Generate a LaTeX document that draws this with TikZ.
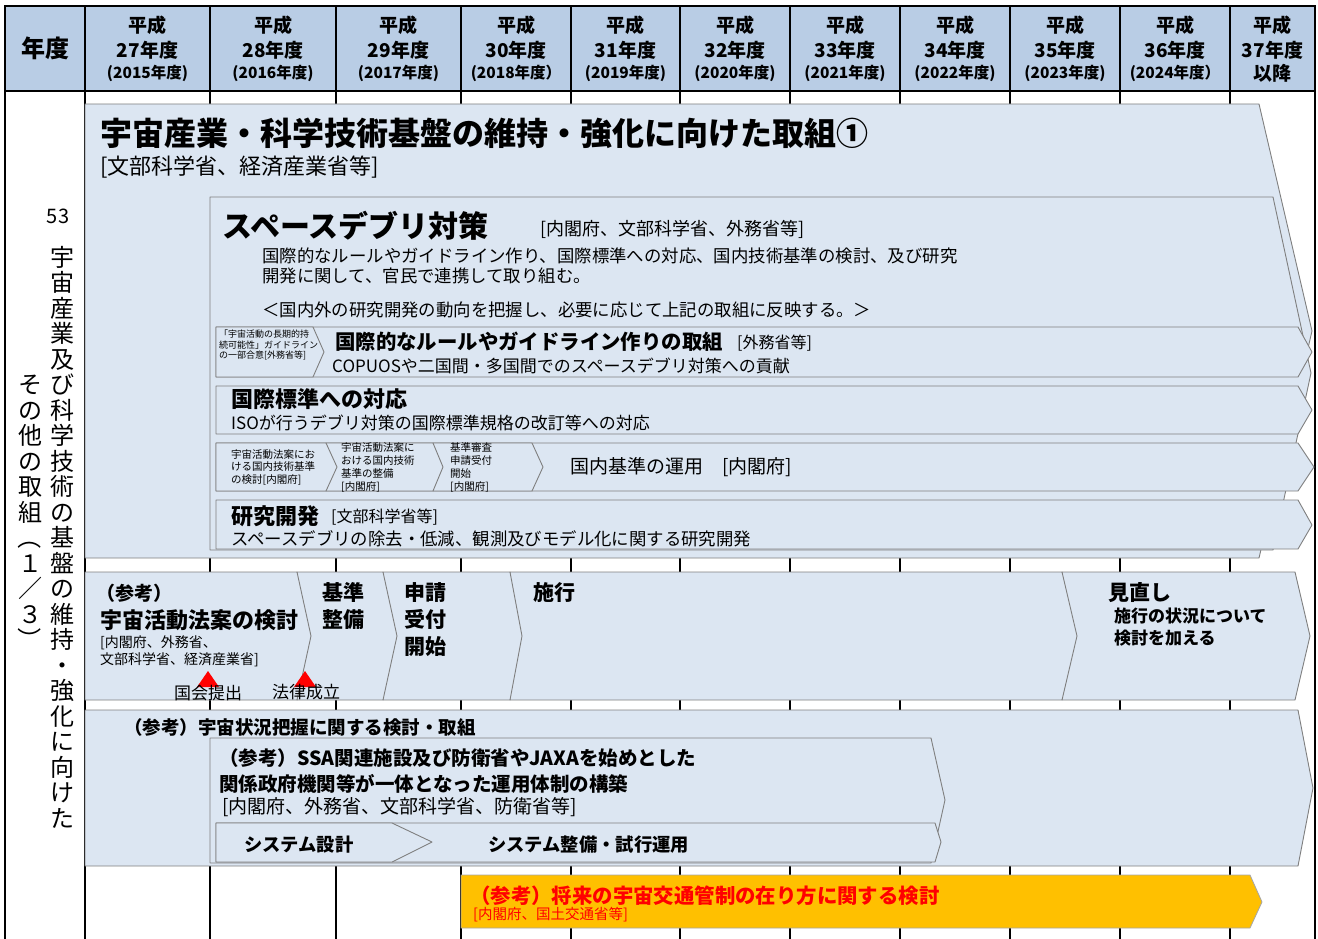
\documentclass[tikz,border=0pt]{standalone}
\usepackage{fontspec}
\setmainfont{Noto Sans CJK JP}
\usepackage{graphicx}
\definecolor{hdrfill}{HTML}{B9CDE5}
\definecolor{shpfill}{HTML}{DCE6F2}
\definecolor{shpline}{HTML}{7F7F7F}
\definecolor{ylw}{HTML}{FFC000}
\definecolor{ylwline}{HTML}{A6A6A6}
\newcommand\fsz[2]{\fontsize{#1}{#2}\selectfont}
\newcommand\yh[4]{%
  \node[hd,font=\fsz{19}{19}\bfseries] (#1a) at (#2,25) {平成};
  \node[hd,font=\fsz{19}{19}\bfseries] (#1b) at (#2,50) {#3};
  \node[hd,font=\fsz{15.5}{15.5}\bfseries] (#1c) at (#2,73) {#4};}
\begin{document}
\begin{tikzpicture}[x=1pt,y=-1pt,
  hd/.style={inner sep=0pt,anchor=center},
  shp/.style={fill=shpfill,draw=shpline,line width=0.9pt,line join=round},
  tx/.style={inner sep=0pt,anchor=west,align=left},
  colline/.style={line width=1.5pt,black}]
\useasboundingbox (0,0) rectangle (1318,939);
% ---------- grid ----------
\fill[hdrfill] (5,6) rectangle (1315,91);
\foreach \x in {210,336,461,571,680,790,900,1010,1120,1230}
  \draw[colline] (\x,6) -- (\x,939);
\draw[line width=2pt] (85,6) -- (85,939);
\draw[line width=2pt] (5,91) -- (1315,91);
\draw[line width=2.5pt] (5,939) -- (5,6) -- (1315,6) -- (1315,939);
% ---------- header ----------
\node[hd,font=\fsz{24}{24}\bfseries] (nendo) at (45,48) {年度};
\yh{y27}{147.5}{27年度}{(2015年度)}
\yh{y28}{273}{28年度}{(2016年度)}
\yh{y29}{398.5}{29年度}{(2017年度)}
\yh{y30}{516}{30年度}{(2018年度）}
\yh{y31}{625.5}{31年度}{(2019年度)}
\yh{y32}{735}{32年度}{(2020年度)}
\yh{y33}{845}{33年度}{(2021年度)}
\yh{y34}{955}{34年度}{(2022年度)}
\yh{y35}{1065}{35年度}{(2023年度)}
\yh{y36}{1175}{36年度}{(2024年度）}
\node[hd,font=\fsz{19}{19}\bfseries] (y37a) at (1272.5,25) {平成};
\node[hd,font=\fsz{19}{19}\bfseries] (y37b) at (1272.5,50) {37年度};
\node[hd,font=\fsz{19}{19}\bfseries] (y37c) at (1272.5,73) {以降};
% ---------- left column ----------
\node[hd,font=\fsz{20}{20}] (num) at (58,216) {53};
\node[inner sep=0pt,anchor=north,align=center,font=\fsz{24}{25.5}] (vt1) at (62,246)
 {宇\\宙\\産\\業\\及\\び\\科\\学\\技\\術\\の\\基\\盤\\の\\維\\持\\・\\強\\化\\に\\向\\け\\た};
\node[inner sep=0pt,anchor=north,align=center,font=\fsz{24}{25.5}] (vt2) at (30,375)
 {そ\\の\\他\\の\\取\\組\\\rotatebox[origin=c]{-90}{（}\\１\\／\\３\\\rotatebox[origin=c]{-90}{）}};
% ---------- block 1 ----------
\draw[shp] (85,104) -- (1259,104) -- (1312,331) -- (1259,558) -- (85,558) -- cycle;
\node[tx,font=\fsz{32}{32}\bfseries] (t1) at (100,133) {宇宙産業・科学技術基盤の維持・強化に向けた取組①};
\node[tx,font=\fsz{22}{22}] (t1s) at (100,167) {[文部科学省、経済産業省等]};
\draw[shp] (210,197) -- (1273,197) -- (1311,373) -- (1273,550) -- (210,550) -- cycle;
\node[tx,font=\fsz{30}{30}\bfseries] (t2) at (222,226) {スペースデブリ対策};
\node[tx,font=\fsz{18}{18}] (t2s) at (540,229) {[内閣府、文部科学省、外務省等]};
\node[tx,font=\fsz{17.4}{20.5}] (t2d) at (262,266) {国際的なルールやガイドライン作り、国際標準への対応、国内技術基準の検討、及び研究\\開発に関して、官民で連携して取り組む。};
\node[tx,font=\fsz{17.4}{17.4}] (t2e) at (262,310) {＜国内外の研究開発の動向を把握し、必要に応じて上記の取組に反映する。＞};
% row a
\draw[shp] (216,327) -- (1298,327) -- (1312,352) -- (1298,377) -- (216,377) -- cycle;
\draw[shp] (216,327) -- (313,327) -- (324,352) -- (313,377) -- (216,377) -- cycle;
\node[tx,font=\fsz{9}{10.5}] (ra0) at (219,345) {「宇宙活動の長期的持\\続可能性」ガイドライン\\の一部合意[外務省等]};
\node[tx,font=\fsz{20.4}{20.4}\bfseries] (ra1) at (335,342) {国際的なルールやガイドライン作りの取組};
\node[tx,font=\fsz{16}{16}] (ra2) at (737,343) {[外務省等]};
\node[tx,font=\fsz{17}{17}] (ra3) at (332,366) {COPUOSや二国間・多国間でのスペースデブリ対策への貢献};
% row b
\draw[shp] (216,386) -- (1298,386) -- (1312,410) -- (1298,434) -- (216,434) -- cycle;
\node[tx,font=\fsz{22}{22}\bfseries] (rb1) at (231,399) {国際標準への対応};
\node[tx,font=\fsz{17}{17}] (rb2) at (231,423) {ISOが行うデブリ対策の国際標準規格の改訂等への対応};
% row c
\draw[shp] (216,443) -- (1298,443) -- (1314,467) -- (1298,491) -- (216,491) -- cycle;
\draw[shp] (433,443) -- (532,443) -- (543,467) -- (532,491) -- (433,491) -- cycle;
\draw[shp] (326,443) -- (433,443) -- (443,467) -- (433,491) -- (326,491) -- cycle;
\draw[shp] (216,443) -- (326,443) -- (337,467) -- (326,491) -- (216,491) -- cycle;
\node[tx,font=\fsz{10.5}{12.5}] (rc1) at (231,467) {宇宙活動法案にお\\ける国内技術基準\\の検討[内閣府]};
\node[tx,font=\fsz{10.5}{13}] (rc2) at (341,467) {宇宙活動法案に\\おける国内技術\\基準の整備\\{}[内閣府]};
\node[tx,font=\fsz{10.5}{13}] (rc3) at (450,467) {基準審査\\申請受付\\開始\\{}[内閣府]};
\node[tx,font=\fsz{19}{19}] (rc4) at (570,467) {国内基準の運用　[内閣府]};
% row d
\draw[shp] (216,500) -- (1298,500) -- (1312,525) -- (1298,549) -- (216,549) -- cycle;
\node[tx,font=\fsz{22}{22}\bfseries] (rd1) at (231,516) {研究開発};
\node[tx,font=\fsz{16}{16}] (rd2) at (331,517) {[文部科学省等]};
\node[tx,font=\fsz{17.4}{17.4}] (rd3) at (231,539) {スペースデブリの除去・低減、観測及びモデル化に関する研究開発};
% ---------- block 2 ----------
\draw[shp] (1062,572) -- (1295,572) -- (1310,636) -- (1295,700) -- (1062,700) -- cycle;
\draw[shp] (510,572) -- (1062,572) -- (1077,636) -- (1062,700) -- (510,700) -- cycle;
\draw[shp] (383,572) -- (510,572) -- (522,636) -- (510,700) -- (383,700) -- cycle;
\draw[shp] (297,572) -- (383,572) -- (397,636) -- (383,700) -- (297,700) -- cycle;
\draw[shp] (85,572) -- (297,572) -- (311,636) -- (297,700) -- (85,700) -- cycle;
\node[tx,font=\fsz{19}{19}\bfseries] (s1a) at (96,593) {（参考）};
\node[tx,font=\fsz{22}{22}\bfseries] (s1b) at (100,620) {宇宙活動法案の検討};
\node[tx,font=\fsz{14}{17}] (s1c) at (100,651) {[内閣府、外務省、\\文部科学省、経済産業省]};
\fill[red] (197,687) -- (208,671) -- (219,687) -- cycle;
\fill[red] (294,687) -- (305,671) -- (316,687) -- cycle;
\node[hd,font=\fsz{17}{17}] (kokkai) at (208,693) {国会提出};
\node[hd,font=\fsz{17}{17}] (houritsu) at (306,692) {法律成立};
\node[tx,font=\fsz{21}{27}\bfseries] (s2) at (322,606) {基準\\整備};
\node[tx,font=\fsz{21}{27}\bfseries] (s3) at (404,620) {申請\\受付\\開始};
\node[tx,font=\fsz{21}{21}\bfseries] (s4) at (533,593) {施行};
\node[tx,font=\fsz{21}{21}\bfseries] (s5a) at (1108,593) {見直し};
\node[tx,font=\fsz{17}{22}\bfseries] (s5b) at (1114,627) {施行の状況について\\検討を加える};
% ---------- block 3 ----------
\draw[shp] (85,710) -- (1298,710) -- (1313,788) -- (1298,866) -- (85,866) -- cycle;
\node[tx,font=\fsz{18.5}{18.5}\bfseries] (u1) at (124,727) {（参考）宇宙状況把握に関する検討・取組};
\draw[shp] (210,738) -- (931,738) -- (945,800) -- (931,863) -- (210,863) -- cycle;
\node[tx,font=\fsz{19.5}{26}\bfseries] (u2) at (219,771) {（参考）SSA関連施設及び防衛省やJAXAを始めとした\\関係政府機関等が一体となった運用体制の構築};
\node[tx,font=\fsz{19}{19}] (u3) at (222,807) {[内閣府、外務省、文部科学省、防衛省等]};
\draw[shp] (216,823) -- (935,823) -- (941,842) -- (935,862) -- (216,862) -- cycle;
\draw[shp] (216,823) -- (392,823) -- (432,842) -- (392,862) -- (216,862) -- cycle;
\node[tx,font=\fsz{18.3}{18.3}\bfseries] (u4) at (244,845) {システム設計};
\node[tx,font=\fsz{18.3}{18.3}\bfseries] (u5) at (488,845) {システム整備・試行運用};
% ---------- block 4 ----------
\draw[fill=ylw,draw=ylwline,line width=0.8pt] (461,875) -- (1250,875) -- (1262,902) -- (1250,928) -- (461,928) -- cycle;
\node[tx,font=\fsz{20.4}{20.4}\bfseries,text=red] (w1) at (470,896) {（参考）将来の宇宙交通管制の在り方に関する検討};
\node[tx,font=\fsz{14.5}{14.5},text=red] (w2) at (473,915) {[内閣府、国土交通省等]};
\end{tikzpicture}
\end{document}
